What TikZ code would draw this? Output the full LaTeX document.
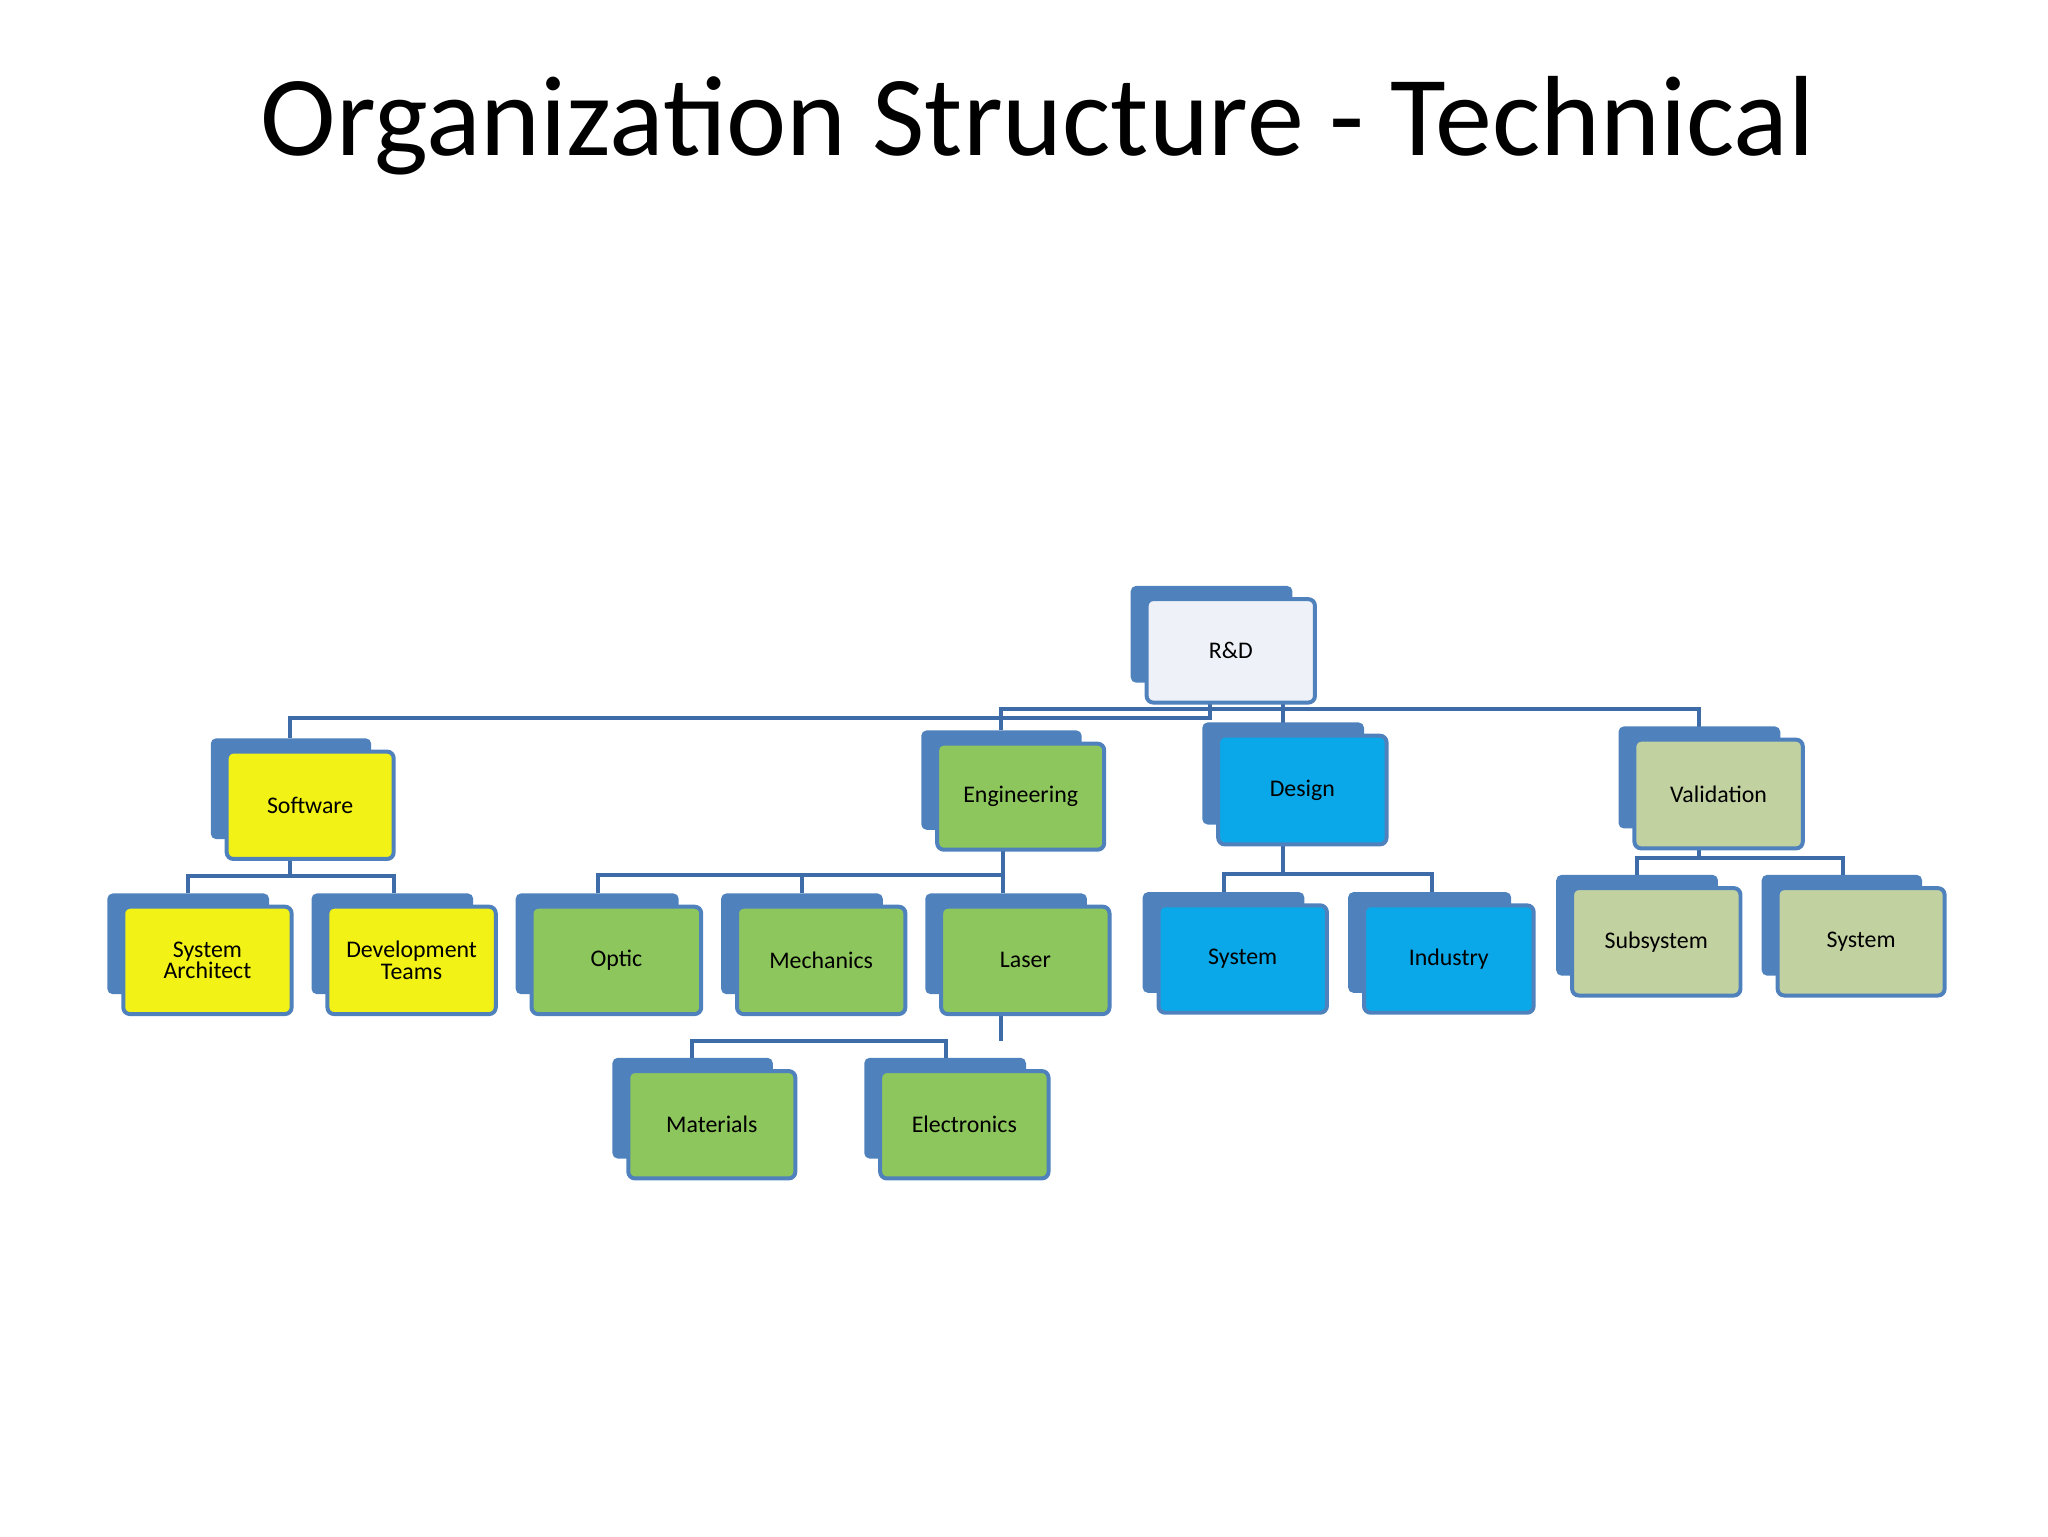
\documentclass[tikz,border=0pt]{standalone}
\usepackage{fontspec}
\setmainfont{Carlito}
\begin{document}
\begin{tikzpicture}[x=1pt,y=-1pt,
  conn/.style={draw=linkc,line width=3pt},
  backbox/.style={fill=backc,rounded corners=4pt},
  frontbox/.style={draw=backc,line width=3pt,rounded corners=5pt},
  lbl/.style={font=\fontsize{18}{20}\selectfont,align=center}]
\definecolor{backc}{HTML}{4F81BD}
\definecolor{linkc}{HTML}{3E6CA8}
\definecolor{yel}{HTML}{F2F216}
\definecolor{grn}{HTML}{8DC65C}
\definecolor{blu}{HTML}{0AA8E8}
\definecolor{sage}{HTML}{C2D1A0}
\definecolor{wht}{HTML}{EEF2F8}
\useasboundingbox (0,0) rectangle (1545,1159);
\node[font=\fontsize{86}{90}\selectfont] (title) at (783,95) {Organization Structure - Technical};
\newcommand{\orgbox}[7]{%
  \fill[backbox] (#2-12,#3-10) rectangle (#4-17,#5-15);
  \draw[frontbox,fill=#6] (#2,#3) rectangle (#4,#5);
  \node[lbl] (#1) at ({(#2+#4)/2},{(#3+#5)/2}) {#7};}
% connectors
\draw[conn] (913,530) -- (913,542) -- (219,542) -- (219,557);
\draw[conn] (913,530) -- (913,535) -- (755,535) -- (755,551);
\draw[conn] (913,535) -- (1282,535) -- (1282,549);
\draw[conn] (968,530) -- (968,547);
\draw[conn] (219,648) -- (219,661);
\draw[conn] (142,674) -- (142,661) -- (297,661) -- (297,674);
\draw[conn] (757,641) -- (757,674);
\draw[conn] (451,674) -- (451,660) -- (757,660);
\draw[conn] (605,660) -- (605,674);
\draw[conn] (755,765) -- (755,785);
\draw[conn] (522,798) -- (522,785) -- (714,785) -- (714,798);
\draw[conn] (968,637) -- (968,659);
\draw[conn] (923,673) -- (923,659) -- (1080,659) -- (1080,673);
\draw[conn] (1282,640) -- (1282,647);
\draw[conn] (1235,660) -- (1235,647) -- (1390,647) -- (1390,660);
% boxes
\orgbox{rd}{865}{452}{992}{530}{wht}{R\&D}
\orgbox{sw}{171}{567}{297}{648}{yel}{Software}
\orgbox{sa}{93}{684}{220}{765}{yel}{System\\[-4pt]Architect}
\orgbox{dt}{247}{684}{374}{765}{yel}{Development\\[-4pt]Teams}
\orgbox{eng}{707}{561}{833}{641}{grn}{Engineering}
\orgbox{opt}{401}{684}{529}{765}{grn}{Optic}
\orgbox{mech}{556}{684}{683}{765}{grn}{Mechanics}
\orgbox{las}{710}{684}{837}{765}{grn}{Laser}
\orgbox{mat}{474}{808}{600}{889}{grn}{Materials}
\orgbox{ele}{664}{808}{791}{889}{grn}{Electronics}
\orgbox{des}{919}{555}{1046}{637}{blu}{Design}
\orgbox{sys}{874}{683}{1001}{764}{blu}{System}
\orgbox{ind}{1029}{683}{1157}{764}{blu}{Industry}
\orgbox{val}{1233}{558}{1360}{640}{sage}{Validation}
\orgbox{sub}{1186}{670}{1313}{751}{sage}{Subsystem}
\orgbox{vsys}{1341}{670}{1467}{751}{sage}{System}
\end{tikzpicture}
\end{document}
